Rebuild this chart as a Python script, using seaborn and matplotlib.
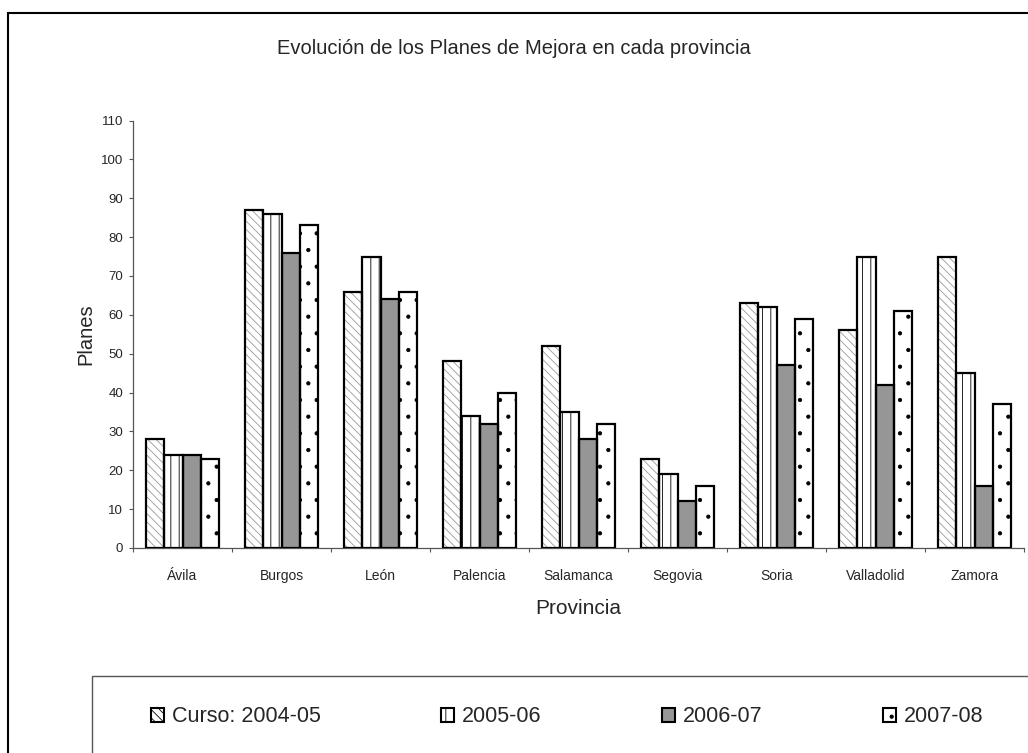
import numpy as np
import pandas as pd
import matplotlib
matplotlib.use("Agg")
import matplotlib.pyplot as plt
from matplotlib.patches import Rectangle, Patch
import seaborn as sns

provincias = ['Ávila', 'Burgos', 'León', 'Palencia', 'Salamanca', 'Segovia', 'Soria', 'Valladolid', 'Zamora']
cursos = ['Curso: 2004-05', '2005-06', '2006-07', '2007-08']
v_2004_05 = [28, 87, 66, 48, 52, 23, 63, 56, 75]
v_2005_06 = [24, 86, 75, 34, 35, 19, 62, 75, 45]
v_2006_07 = [24, 76, 64, 32, 28, 12, 47, 42, 16]
v_2007_08 = [23, 83, 66, 40, 32, 16, 59, 61, 37]

df = pd.DataFrame({
    'Provincia': provincias * 4,
    'Curso': np.repeat(cursos, len(provincias)),
    'Planes': v_2004_05 + v_2005_06 + v_2006_07 + v_2007_08,
})

sns.set_style("white")
plt.rcParams['font.family'] = ['Liberation Sans', 'DejaVu Sans']
plt.rcParams['hatch.linewidth'] = 0.6

# fill colour, hatch, hatch colour per series
styles = [
    ('white', '\\\\\\\\', '#9a9a9a'),
    ('white', '||', 'black'),
    ('#969696', '', '#969696'),
    ('white', '.', 'black'),
]

W, H = 1028, 753
fig = plt.figure(figsize=(W / 100, H / 100), dpi=100)
ax = fig.add_axes([133 / W, 1 - 548 / H, (1024 - 133) / W, (548 - 120.5) / H])

sns.barplot(data=df, x='Provincia', y='Planes', hue='Curso', order=provincias,
            hue_order=cursos, width=0.73, gap=0, ax=ax, legend=False,
            palette=['white'] * 4, saturation=1, edgecolor='black')

for container, (fc, hatch, hc) in zip(ax.containers, styles):
    for bar in container:
        bar.set_facecolor(fc)
        bar.set_hatch(hatch)
        bar.set_edgecolor(hc)
        bar.set_linewidth(0)
        outline = Rectangle(bar.get_xy(), bar.get_width(), bar.get_height(),
                            fill=False, edgecolor='black', linewidth=1.6, zorder=3)
        ax.add_patch(outline)

ax.set_ylim(0, 110)
ax.set_yticks(range(0, 111, 10))
ax.set_xlim(-0.5, len(provincias) - 0.5)
ax.set_xticks(np.arange(-0.5, len(provincias), 1), minor=True)
ax.tick_params(axis='x', which='major', length=0, labelsize=10, pad=15)
ax.tick_params(axis='x', which='minor', length=3, width=0.8, color='#555555', direction='out', bottom=True)
ax.tick_params(axis='y', length=3, width=0.8, color='#555555', direction='out', left=True, labelsize=9.5, pad=4)
for s in ['top', 'right']:
    ax.spines[s].set_visible(False)
for s in ['left', 'bottom']:
    ax.spines[s].set_color('#555555')
    ax.spines[s].set_linewidth(0.9)

ax.set_xlabel('Provincia', fontsize=15, labelpad=12)
ax.set_ylabel('Planes', fontsize=14.5, labelpad=4)
fig.text(0.5, 1 - 48 / H, 'Evolución de los Planes de Mejora en cada provincia',
         ha='center', va='center', fontsize=14.5)

# figure frame and legend box
fig.patches.append(Rectangle((8 / W, -0.05), 1, 1.05 - 13 / H, transform=fig.transFigure,
                             fill=False, edgecolor='black', linewidth=1.5))
fig.patches.append(Rectangle((92 / W, -0.05), 1, 0.05 + 1 - 676 / H,
                             transform=fig.transFigure, fill=False,
                             edgecolor='#555555', linewidth=1))

handles = [Patch(facecolor=fc, hatch=h, edgecolor='black', linewidth=1.5) for fc, h, hc in styles]
fig.legend(handles, cursos, loc='center left', ncol=4,
           bbox_to_anchor=(151 / W, 1 - 717 / H),
           frameon=False, fontsize=15.5, handlelength=0.6, handleheight=0.6,
           handletextpad=0.37, columnspacing=5.6, borderaxespad=0, borderpad=0)

fig.savefig('out.png', dpi=100)
